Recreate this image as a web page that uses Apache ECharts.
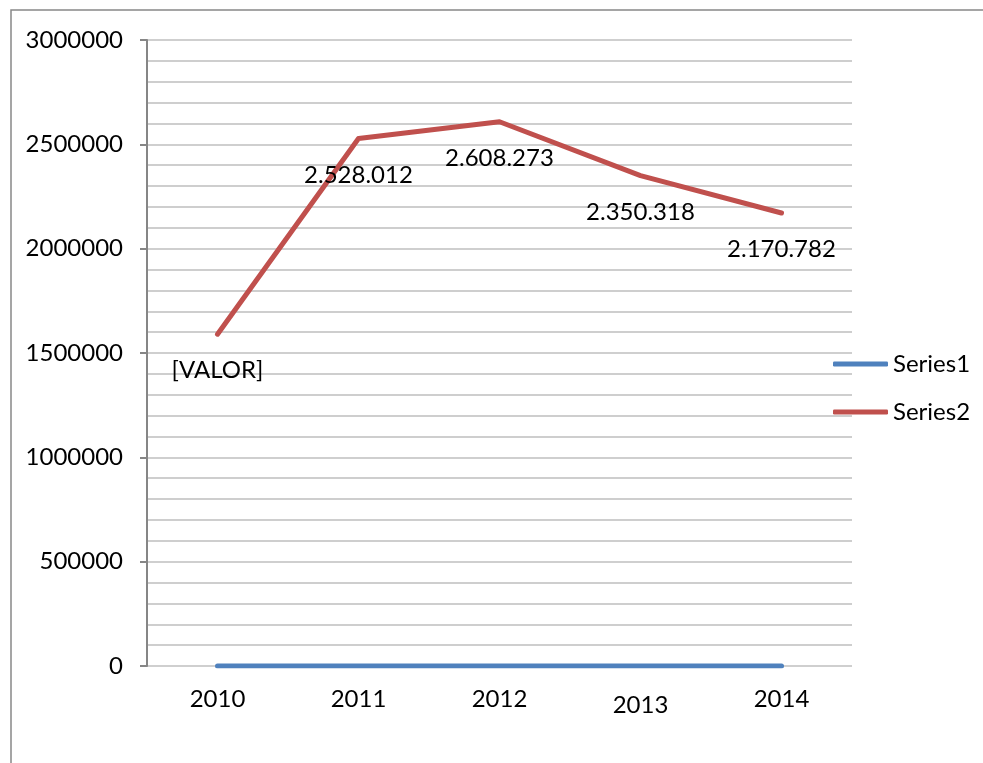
<!DOCTYPE html>
<html>
<head>
<meta charset="utf-8">
<script src="https://cdn.jsdelivr.net/npm/echarts@6/dist/echarts.min.js"></script>
<style>
html,body{margin:0;padding:0;background:#fff;}
#chart{width:983px;height:763px;}
</style>
</head>
<body>
<div id="chart"></div>
<script>
var categories = ['2010', '2011', '2012', '2013', '2014'];
var series1Values = [0, 0, 0, 0, 0];
var series2Values = [1590000, 2528012, 2608273, 2350318, 2170782];
var series2Labels = ['[VALOR]', '2.528.012', '2.608.273', '2.350.318', '2.170.782'];
var yTicks = [0, 500000, 1000000, 1500000, 2000000, 2500000, 3000000];

var FONT = 'Lato';
var FS = 24;
var chart = echarts.init(document.getElementById('chart'));
chart.setOption({
  backgroundColor: '#ffffff',
  animation: false,
  textStyle: { fontFamily: FONT },
  graphic: [{
    type: 'rect',
    shape: { x: 11, y: 10, width: 1200, height: 1200 },
    style: { fill: 'none', stroke: '#888888', lineWidth: 1.5 },
    silent: true
  }],
  grid: { left: 147, top: 40, right: 131, bottom: 97, containLabel: false },
  legend: {
    orient: 'vertical',
    left: 833,
    top: 350,
    padding: 0,
    itemWidth: 55,
    itemHeight: 5,
    itemGap: 20,
    icon: 'roundRect',
    textStyle: { fontFamily: FONT, fontSize: FS, color: '#000', lineHeight: 28 },
    data: [
      { name: 'Series1', itemStyle: { color: '#4F81BD', opacity: 1 } },
      { name: 'Series2', itemStyle: { color: '#C0504D', opacity: 1 } }
    ]
  },
  xAxis: {
    type: 'category',
    data: categories.map(function (c, i) {
      var pad = [0, 0, 0, 0];
      if (i === 3) pad = [6, 0, 0, 0];
      if (i === 4) pad = [0, 0, 6, 0];
      return { value: c, textStyle: { padding: pad } };
    }),
    boundaryGap: true,
    axisLine: { show: false },
    axisTick: { show: false },
    axisLabel: { fontFamily: FONT, fontSize: FS, color: '#000', margin: 21 }
  },
  yAxis: {
    type: 'value',
    min: yTicks[0],
    max: yTicks[yTicks.length - 1],
    interval: yTicks[1] - yTicks[0],
    axisLine: { show: true, lineStyle: { color: '#868686', width: 2 } },
    axisTick: { show: true, length: 7, lineStyle: { color: '#868686', width: 2 } },
    axisLabel: {
      fontFamily: FONT, fontSize: FS, color: '#000', margin: 24,
      formatter: function (v) { return String(v); }
    },
    splitLine: { show: true, lineStyle: { color: '#bfbfbf', width: 1.5 } },
    minorTick: { show: false, splitNumber: 5 },
    minorSplitLine: { show: true, lineStyle: { color: '#bfbfbf', width: 1.5 } }
  },
  series: [
    {
      name: 'Series1',
      type: 'line',
      data: series1Values,
      symbol: 'none',
      lineStyle: { color: '#4F81BD', width: 5, cap: 'round', join: 'round' },
      itemStyle: { color: '#4F81BD' },
      z: 3
    },
    {
      name: 'Series2',
      type: 'line',
      data: series2Values,
      symbol: 'circle',
      symbolSize: 1,
      itemStyle: { color: '#C0504D', opacity: 0 },
      lineStyle: { color: '#C0504D', width: 5, cap: 'round', join: 'round' },
      label: {
        show: true,
        position: 'bottom',
        distance: 24,
        fontFamily: FONT,
        fontSize: FS,
        color: '#000',
        opacity: 1,
        formatter: function (p) { return series2Labels[p.dataIndex]; }
      },
      z: 4
    }
  ]
});
</script>
</body>
</html>
